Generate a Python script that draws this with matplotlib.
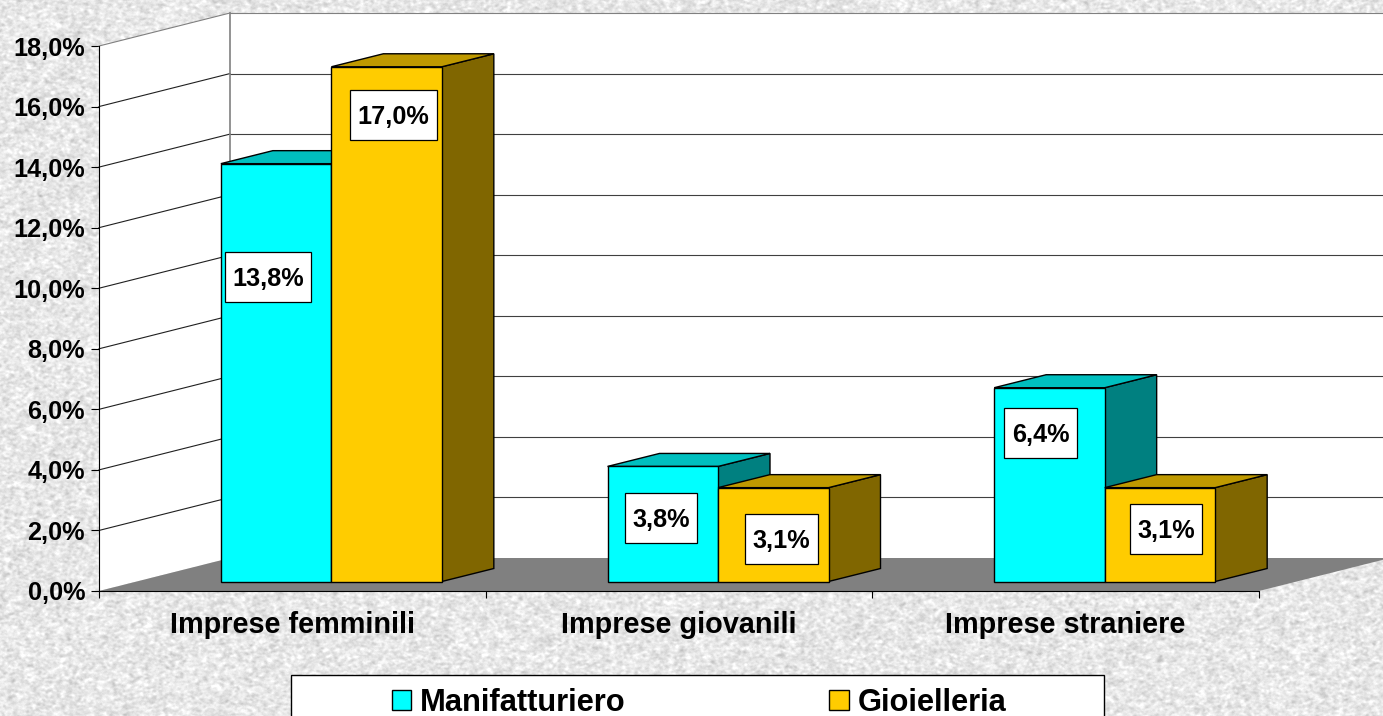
import numpy as np
import matplotlib
matplotlib.use("Agg")
import matplotlib.pyplot as plt
from matplotlib.patches import Polygon, Rectangle, Patch

plt.rcParams['font.family'] = ['Liberation Sans', 'DejaVu Sans']
plt.rcParams['font.weight'] = 'bold'

W, H = 1383, 716

# data
categories = ["Imprese femminili", "Imprese giovanili", "Imprese straniere"]
manifatturiero = [13.8, 3.8, 6.4]
gioielleria = [17.0, 3.1, 3.1]
y_ticks = [0, 2, 4, 6, 8, 10, 12, 14, 16, 18]

# label box centre, pixels from the bar's top centre (right, down)
label_offsets = {
    "Manifatturiero": [(-8, 113), (-2, 52), (-9, 45)],
    "Gioielleria": [(7, 48), (8, 51), (6, 41)],
}

# colours: front, top, side
cyan = ("#00FFFF", "#00BFBF", "#008080")
gold = ("#FFCC00", "#BF9900", "#806600")
FLOOR = "#808080"

# plot frame in pixels, the front plane of the 3D box
X0, X1, Y0, Y1 = 99, 1259, 591, 46
px_x = (X1 - X0) / 3.0
px_y = (Y0 - Y1) / 18.0


def to_x(px):
    return px / px_x


def to_y(px):
    return px / px_y


fig = plt.figure(figsize=(W / 100, H / 100), dpi=100)

# stone background
rng = np.random.default_rng(7)
noise = rng.normal(size=(H, W))
fx = np.fft.fftfreq(W)[None, :]
fy = np.fft.fftfreq(H)[:, None]
soft = np.fft.ifft2(np.fft.fft2(noise) * np.exp(-(fx ** 2 * 35 + fy ** 2 * 20))).real
soft = soft / soft.std()
bg = fig.add_axes([0, 0, 1, 1], zorder=-1)
bg.imshow(np.clip(231 + soft * 9 + noise * 1.5, 0, 255), cmap='gray', vmin=0, vmax=255, aspect='auto')
bg.axis('off')

ax = fig.add_axes([X0 / W, 1 - Y0 / H, (X1 - X0) / W, (Y0 - Y1) / H])
ax.set_facecolor('none')
ax.set_xlim(0, 3)
ax.set_ylim(0, 18)
ax.spines['top'].set_visible(False)
ax.spines['right'].set_visible(False)
ax.spines['left'].set_linewidth(0.8)
ax.spines['bottom'].set_linewidth(0.8)
for s in ax.spines.values():
    s.set_zorder(6)

# box depth
dx, dy = to_x(131), to_y(33)
ax.add_patch(Polygon([(dx, dy), (3 + dx, dy), (3 + dx, 18 + dy), (dx, 18 + dy)], fc='white', ec='none', clip_on=False, zorder=1))
ax.add_patch(Polygon([(0, 0), (dx, dy), (dx, 18 + dy), (0, 18)], fc='white', ec='none', clip_on=False, zorder=1))
ax.add_patch(Polygon([(0, 0), (3, 0), (3 + dx, dy), (dx, dy)], fc=FLOOR, ec='none', clip_on=False, zorder=2))

for v in y_ticks[1:]:
    col = '#808080' if v == 18 else '#202020'
    ax.plot([0, dx], [v, v + dy], color=col, lw=0.8, clip_on=False, zorder=3)
    ax.plot([dx, 3 + dx], [v + dy, v + dy], color='#808080' if v == 18 else '#404040', lw=0.8, clip_on=False, zorder=3)
ax.plot([dx, dx], [dy, 18 + dy], color='#808080', lw=1.2, clip_on=False, zorder=3)

# bars
bar_w = to_x(110.5)
shift_x, shift_y = to_x(39), to_y(9.5)
deep_x, deep_y = to_x(52), to_y(13)


def draw_bar(x, val, cols, z):
    y0 = shift_y
    y1 = shift_y + val
    kw = dict(ec='black', lw=1.0, clip_on=False, zorder=z, joinstyle='miter')
    ax.add_patch(Polygon([(x + bar_w, y0), (x + bar_w + deep_x, y0 + deep_y),
                          (x + bar_w + deep_x, y1 + deep_y), (x + bar_w, y1)], fc=cols[2], **kw))
    ax.add_patch(Polygon([(x, y1), (x + bar_w, y1), (x + bar_w + deep_x, y1 + deep_y),
                          (x + deep_x, y1 + deep_y)], fc=cols[1], **kw))
    ax.add_patch(Rectangle((x, y0), bar_w, val, fc=cols[0], **kw))


def draw_label(x, val, off):
    cx = x + bar_w / 2 + to_x(off[0])
    cy = shift_y + val - to_y(off[1])
    t = ax.text(cx, cy - to_y(2), f"{val:.1f}%".replace('.', ','), ha='center', va='center',
                fontsize=18.2, color='black', zorder=12, clip_on=False)
    tw = t.get_window_extent(fig.canvas.get_renderer()).width
    bw, bh = to_x(tw + 15), to_y(50)
    ax.add_patch(Rectangle((cx - bw / 2, cy - bh / 2), bw, bh, fc='white', ec='black', lw=0.9, clip_on=False, zorder=11))


for i in range(len(categories)):
    centre = i + 0.5 + shift_x
    draw_bar(centre - bar_w, manifatturiero[i], cyan, 4 + i)
    draw_bar(centre, gioielleria[i], gold, 4 + i + 0.5)
    draw_label(centre - bar_w, manifatturiero[i], label_offsets["Manifatturiero"][i])
    draw_label(centre, gioielleria[i], label_offsets["Gioielleria"][i])

# axes
ax.set_yticks(y_ticks)
ax.set_yticklabels([f"{v:.1f}%".replace('.', ',') for v in y_ticks], fontsize=18.2, fontweight='bold', va='center_baseline')
ax.set_xticks([0, 1, 2, 3])
ax.set_xticklabels([])
ax.set_xticks([0.5, 1.5, 2.5], minor=True)
ax.set_xticklabels(categories, minor=True, fontsize=20.8, fontweight='bold')
ax.tick_params(axis='y', length=5.5, width=0.8, pad=4.5)
ax.tick_params(axis='x', which='major', length=5, width=0.8)
ax.tick_params(axis='x', which='minor', length=0, pad=14.5)

# legend box runs off the bottom of the picture
frame = Rectangle((291 / W, -20 / H), 813 / W, 61 / H, transform=fig.transFigure,
                  fc='white', ec='black', lw=1.0, zorder=1)
fig.add_artist(frame)
handles = [Patch(fc=cyan[0], ec='black', lw=1.0, label="Manifatturiero"),
           Patch(fc=gold[0], ec='black', lw=1.0, label="Gioielleria")]
fig.legend(handles=handles, loc='center left', bbox_to_anchor=(392 / W, 1 - 703 / H), ncol=2,
           frameon=False, fontsize=22.2, borderpad=0, borderaxespad=0,
           handlelength=0.62, handleheight=0.62, handletextpad=0.3, columnspacing=6.6)

fig.savefig("out.png", dpi=100)
